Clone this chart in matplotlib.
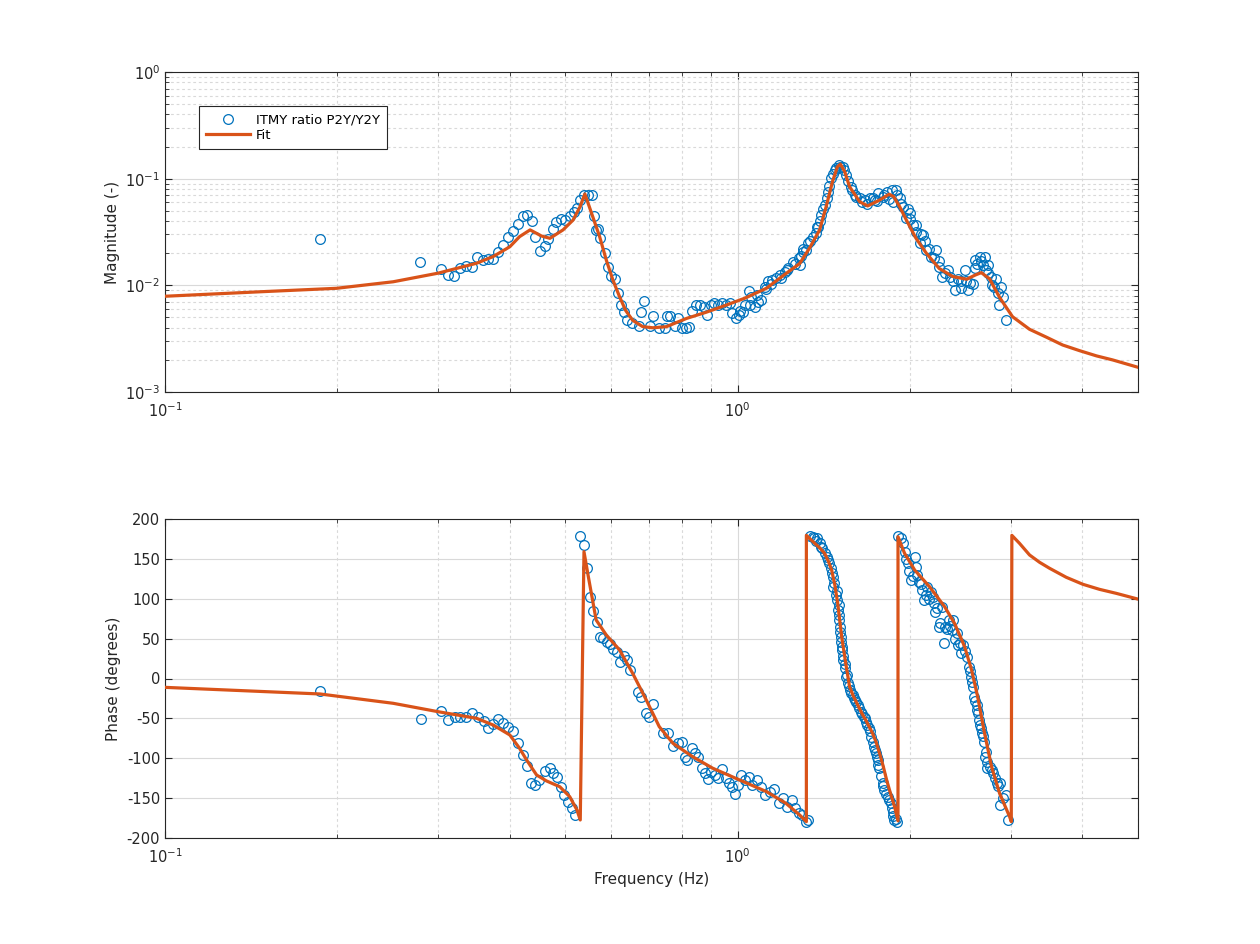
import matplotlib
matplotlib.use("Agg")
import matplotlib.pyplot as plt
import numpy as np
from matplotlib.ticker import LogLocator, MultipleLocator, NullFormatter

plt.rcParams['font.family'] = ['DejaVu Sans']
plt.rcParams['axes.unicode_minus'] = False

# ---------------- data ----------------
mag_f = [0.1865, 0.279, 0.303, 0.312, 0.320, 0.327, 0.336, 0.343, 0.350, 0.359, 0.366, 0.374,
         0.381, 0.389, 0.397, 0.405, 0.414, 0.421, 0.429, 0.4375, 0.443, 0.451, 0.460, 0.467,
         0.476, 0.482, 0.4905, 0.499, 0.5095, 0.5175, 0.524, 0.530, 0.539, 0.548, 0.5575, 0.561,
         0.566, 0.570, 0.5755, 0.586, 0.5925, 0.6005, 0.6105, 0.618, 0.625, 0.633, 0.642, 0.6525,
         0.673, 0.679, 0.6865, 0.702, 0.711, 0.7295, 0.746, 0.7535, 0.762, 0.7775, 0.7875, 0.800,
         0.8135, 0.8225, 0.8335, 0.845, 0.859, 0.872, 0.884, 0.8975, 0.909, 0.9225, 0.9385, 0.953,
         0.969, 0.9785, 0.9915, 1.0035, 1.0195, 1.0305, 1.046, 1.0566, 1.071, 1.085, 1.0995,
         1.1146, 1.1295, 1.1445, 1.168, 1.184, 1.208, 1.225, 1.249, 1.277, 1.300, 1.3265, 1.354,
         1.376, 1.283, 1.318, 1.382, 1.400, 1.418, 1.436, 1.455, 1.4765, 1.501, 1.527, 1.548,
         1.576, 1.600, 1.633, 1.666, 1.700, 1.734, 1.757, 1.793, 1.826, 1.862, 1.890, 1.918,
         1.943, 1.970, 1.996, 2.023, 2.048, 2.078, 2.105, 2.135, 2.176, 2.222, 2.248, 2.276,
         2.328, 2.373, 2.400, 2.457, 2.490, 2.525, 2.580, 2.592, 2.645, 2.698, 2.735, 2.770,
         2.808, 2.846, 2.883, 2.857, 2.940,
         1.01, 1.05, 1.08, 1.12, 1.15, 1.19, 1.22, 1.26, 1.29,
         1.30, 1.34, 1.37, 1.39, 1.41, 1.43, 1.445, 1.465, 1.485, 1.51, 1.535, 1.56, 1.585,
         1.61, 1.65, 1.68, 1.72, 1.75, 1.80, 1.84, 1.87, 1.90, 1.93, 1.98, 2.00, 2.05, 2.09,
         2.12, 2.16, 2.20, 2.25, 2.30, 2.35, 2.42, 2.45, 2.50, 2.54, 2.60, 2.62, 2.66, 2.68,
         2.71, 2.74, 2.78, 2.82, 2.90]
mag_v = [0.0272, 0.01655, 0.0141, 0.0125, 0.0123, 0.0144, 0.0151, 0.0149, 0.0183, 0.0172, 0.0175, 0.0177,
         0.0207, 0.0238, 0.0286, 0.0326, 0.0376, 0.0450, 0.0457, 0.0403, 0.0281, 0.0211, 0.0235, 0.0270,
         0.0335, 0.0395, 0.0418, 0.0410, 0.0445, 0.0490, 0.0528, 0.0631, 0.0703, 0.0703, 0.0703, 0.0445,
         0.0330, 0.0335, 0.0276, 0.0200, 0.0147, 0.0122, 0.0114, 0.0084, 0.0065, 0.0056, 0.0047, 0.0044,
         0.0042, 0.0056, 0.0071, 0.0042, 0.0052, 0.0040, 0.0040, 0.0052, 0.0052, 0.0042, 0.0049, 0.0040,
         0.0040, 0.0041, 0.0058, 0.0065, 0.0065, 0.0063, 0.0053, 0.0065, 0.0068, 0.0065, 0.0068, 0.0065,
         0.0068, 0.0055, 0.0049, 0.0053, 0.0056, 0.0065, 0.0088, 0.0078, 0.0063, 0.0070, 0.0073,
         0.0097, 0.0109, 0.0104, 0.0116, 0.0125, 0.0134, 0.0144, 0.0167, 0.0180, 0.0207, 0.0249, 0.0286,
         0.0355, 0.0156, 0.0215, 0.0355, 0.0457, 0.0568, 0.0756, 0.1009, 0.1205, 0.134, 0.129, 0.108,
         0.084, 0.0703, 0.0655, 0.063, 0.0655, 0.063, 0.0730, 0.068, 0.0756, 0.0785, 0.0785, 0.0655,
         0.0546, 0.0426, 0.0474, 0.0368, 0.0318, 0.0249, 0.0296, 0.0215, 0.0186, 0.0215, 0.0149, 0.0121,
         0.0140, 0.0109, 0.0091, 0.0109, 0.0140, 0.0091, 0.0104, 0.0172, 0.0186, 0.0186, 0.0156, 0.0121,
         0.0097, 0.0084, 0.0097, 0.0065, 0.0047,
         0.0057, 0.0066, 0.0082, 0.0092, 0.0112, 0.0118, 0.0138, 0.0158, 0.0190,
         0.0220, 0.0260, 0.0310, 0.0400, 0.0520, 0.0660, 0.0850, 0.1100, 0.1250, 0.1280, 0.1200, 0.0950, 0.0780,
         0.0680, 0.0600, 0.0580, 0.0660, 0.0620, 0.0700, 0.0650, 0.0600, 0.0700, 0.0580, 0.0520, 0.0420, 0.0370, 0.0300,
         0.0260, 0.0220, 0.0180, 0.0170, 0.0130, 0.0120, 0.0115, 0.0095, 0.0110, 0.0105, 0.0145, 0.0160, 0.0170, 0.0155,
         0.0140, 0.0130, 0.0100, 0.0115, 0.0078]

ph_f = [0.1865, 0.2794, 0.303, 0.312, 0.3205, 0.328, 0.3357, 0.344, 0.352, 0.360, 0.366, 0.374,
        0.381, 0.389, 0.397, 0.405, 0.414, 0.421, 0.428, 0.436, 0.442, 0.449, 0.460, 0.470,
        0.476, 0.484, 0.4915, 0.4975, 0.506, 0.5135, 0.520, 0.530, 0.539, 0.546, 0.553, 0.560,
        0.568, 0.5755, 0.583, 0.591, 0.5995, 0.6053, 0.6145, 0.623, 0.633, 0.642, 0.6475, 0.6695,
        0.679, 0.6925, 0.6995, 0.711, 0.7405, 0.756, 0.771, 0.7875, 0.798, 0.809, 0.8145, 0.831,
        0.842, 0.8535, 0.865, 0.8765, 0.8885, 0.900, 0.912, 0.924, 0.940, 0.954, 0.967, 0.9785,
        0.989, 1.0015, 1.015, 1.031, 1.045, 1.061, 1.082, 1.0995, 1.118, 1.1365, 1.159, 1.1805,
        1.200, 1.2205, 1.2435, 1.2605, 1.278, 1.2965, 1.3185, 1.328,
        1.336, 1.354, 1.378, 1.390, 1.404, 1.418, 1.436, 1.455, 1.468, 1.468, 1.483, 1.493,
        1.499, 1.503, 1.5075, 1.513, 1.519, 1.527, 1.537, 1.546, 1.558, 1.572, 1.587, 1.603,
        1.622, 1.644, 1.662, 1.678, 1.692, 1.710, 1.728, 1.745, 1.756, 1.767, 1.791, 1.804,
        1.828, 1.853, 1.865, 1.878, 1.897, 1.905, 1.930, 1.956, 1.981, 2.0075, 2.042, 2.048,
        2.074, 2.101, 2.115, 2.143, 2.171, 2.199, 2.214, 2.243, 2.272, 2.288, 2.303, 2.340,
        2.364, 2.380, 2.412, 2.428, 2.454, 2.477, 2.510, 2.545, 2.560, 2.577, 2.588, 2.612,
        2.630, 2.648, 2.666, 2.695, 2.7025, 2.720, 2.757, 2.794, 2.831, 2.870, 2.866, 2.940, 2.960,
        1.36, 1.37, 1.40, 1.43, 1.445, 1.46, 1.475, 1.49, 1.50, 1.505, 1.51, 1.516, 1.522,
        1.53, 1.54, 1.55, 1.565, 1.58, 1.595, 1.61, 1.63, 1.65, 1.67, 1.685, 1.70, 1.72,
        1.735, 1.75, 1.76, 1.78, 1.795, 1.815, 1.84, 1.86, 1.87, 1.89,
        1.94, 1.97, 1.99, 2.02, 2.06, 2.09, 2.13, 2.16, 2.19, 2.23, 2.26, 2.32, 2.35, 2.40,
        2.44, 2.49, 2.53, 2.57, 2.60, 2.62, 2.64, 2.66, 2.68, 2.71, 2.73, 2.78, 2.81, 2.85, 2.90]
ph_v = [-15.7, -51.2, -40.4, -52.0, -48.7, -48.7, -48.7, -43.6, -47.9, -52.9, -62.4, -57.0,
        -50.8, -56.2, -60.4, -65.5, -80.5, -95.9, -109.7, -130.6, -133.5, -127.3, -115.6, -112.6,
        -118.9, -123.9, -135.7, -146.1, -154.5, -162.8, -171.2, 178.7, 167.0, 138.2, 101.8, 85.0,
        71.2, 52.4, 50.4, 46.2, 43.3, 36.6, 33.6, 21.1, 28.2, 23.2, 10.7, -16.5,
        -22.8, -43.6, -47.9, -32.0, -68.7, -68.7, -84.6, -80.5, -79.2, -98.0, -102.2, -87.5,
        -93.8, -98.0, -112.6, -118.9, -126.4, -116.9, -121.0, -125.1, -113.9, -125.1, -131.4, -135.7,
        -144.8, -133.5, -121.0, -127.3, -123.1, -133.5, -127.3, -135.7, -146.1, -142.0, -138.9, -155.7,
        -150.2, -161.5, -152.3, -162.8, -169.0, -171.2, -179.5, -178.0,
        179.0, 177.8, 175.8, 169.5, 163.3, 157.0, 148.6, 138.2, 127.7, 115.1, 104.7, 98.4,
        85.9, 73.4, 58.7, 46.2, 35.7, 23.2, 12.8, 2.3, -6.0, -14.4, -20.7, -27.0,
        -33.2, -41.6, -47.9, -54.2, -62.5, -73.0, -85.5, -93.8, -102.2, -112.6, -131.4, -139.8,
        -148.2, -156.5, -167.0, -177.4, -179.5, 179.0, 175.8, 159.0, 144.5, 123.5, 152.7, 140.2,
        121.4, 111.0, 98.4, 115.1, 108.8, 94.3, 83.8, 65.0, 90.0, 44.1, 65.0, 73.4,
        60.8, 73.4, 56.7, 42.0, 31.6, 42.0, 26.5, 9.8, 1.4, -11.1, -23.7, -33.2,
        -43.6, -58.3, -68.7, -79.2, -98.0, -112.6, -110.6, -118.9, -131.4, -131.4, -158.6, -146.1, -177.4,
        176, 172, 165, 152, 145, 132, 120, 110, 92, 80, 65, 52, 40,
        28, 18, 5, -10, -18, -25, -30, -37, -45, -50, -58, -66, -80,
        -90, -98, -108, -122, -135, -145, -152, -162, -172, -176,
        170, 150, 135, 128, 130, 118, 105, 100, 102, 88, 70, 62, 66, 50,
        45, 35, 15, -5, -28, -40, -52, -62, -72, -92, -105, -115, -125, -135, -150]

fit_mag_f = [0.100, 0.1465, 0.1993, 0.2503, 0.2997, 0.3498, 0.374, 0.400, 0.416, 0.434, 0.4543,
             0.470, 0.4955, 0.516, 0.530, 0.541, 0.557, 0.574, 0.5895, 0.6055, 0.622, 0.6375,
             0.6555, 0.6825, 0.711, 0.751, 0.8145, 0.8815, 0.953, 1.0305, 1.123, 1.214, 1.283,
             1.336, 1.390, 1.427, 1.464, 1.493, 1.511, 1.537, 1.568, 1.633, 1.686, 1.769, 1.838,
             1.872, 1.918, 1.970, 2.048, 2.135, 2.248, 2.373, 2.510, 2.600, 2.663, 2.753, 2.866,
             3.019, 3.233, 3.462, 3.692, 3.954, 4.232, 4.513, 4.990]
fit_mag_v = [0.0079, 0.0087, 0.00938, 0.0108, 0.0130, 0.0161, 0.0186, 0.0230, 0.0286, 0.0331, 0.0290,
             0.0276, 0.0331, 0.0410, 0.0540, 0.0718, 0.0457, 0.0286, 0.0173, 0.0112, 0.0078, 0.0058,
             0.0047, 0.0041, 0.0040, 0.0041, 0.0049, 0.0056, 0.0065, 0.0076, 0.0094, 0.0129, 0.0160,
             0.0225, 0.0331, 0.0546, 0.0940, 0.1290, 0.1370, 0.1170, 0.0840, 0.0608, 0.0555, 0.0630, 0.0715,
             0.0680, 0.0546, 0.0410, 0.0276, 0.0200, 0.0144, 0.0121, 0.0114, 0.0125, 0.01315, 0.0115, 0.0077,
             0.00508, 0.00387, 0.00326, 0.00276, 0.00244, 0.00218, 0.00200, 0.00171]

fit_ph_f = [0.100, 0.1865, 0.2503, 0.2997, 0.350, 0.374, 0.400, 0.416, 0.428, 0.4455, 0.4637,
            0.489, 0.509, 0.524, 0.531, 0.539, 0.5485, 0.566, 0.5895, 0.622, 0.6555, 0.6925,
            0.7295, 0.771, 0.834, 0.905, 1.008, 1.123, 1.214, 1.283, 1.318,
            1.318, 1.363, 1.390, 1.418, 1.440, 1.459, 1.478, 1.495, 1.507, 1.519, 1.532, 1.544,
            1.568, 1.594, 1.620, 1.646, 1.673, 1.720, 1.745, 1.769, 1.795, 1.820, 1.850, 1.879,
            1.905, 1.905, 1.956, 2.037, 2.163, 2.298, 2.391, 2.490, 2.561, 2.624, 2.698, 2.775,
            2.866, 2.984, 3.004, 3.011, 3.105, 3.233, 3.366, 3.504, 3.747, 4.007, 4.283, 4.580, 4.990]
fit_ph_v = [-11.1, -19.4, -31.1, -41.6, -49.9, -58.3, -70.8, -87.5, -102.2, -121.0, -128.5,
            -135.7, -148.2, -164.9, -177.4, 159.0, 127.8, 73.4, 54.6, 35.7, 6.5, -27.0,
            -60.4, -81.3, -98.0, -112.6, -127.3, -141.9, -156.5, -171.2, -179.5,
            179.5, 169.5, 164.0, 157.0, 147.0, 136.0, 117.0, 94.3, 73.0, 52.4, 35.0, 19.0,
            -10.3, -23.0, -33.2, -43.0, -52.0, -68.7, -80.0, -93.8, -110.0, -127.3, -145.0, -160.7,
            -178.5, 177.8, 157.0, 136.0, 115.0, 90.0, 69.2, 40.0, 10.7, -22.8, -68.7, -110.6,
            -144.0, -173.3, -179.5, 179.5, 169.5, 154.9, 145.7, 138.2, 126.9, 118.1, 111.8, 106.8, 99.7]

legend_labels = ["ITMY ratio P2Y/Y2Y", "Fit"]

# ---------------- styling ----------------
BLUE = '#0072BD'
ORANGE = '#D95319'
AXC = '#262626'

fig = plt.figure(figsize=(12.6, 9.44), dpi=100)
ax1 = fig.add_axes([165/1260, 1-392/944, 973/1260, 320/944])
ax2 = fig.add_axes([165/1260, 1-838/944, 973/1260, 319/944])

def style(ax):
    for s in ax.spines.values():
        s.set_color(AXC)
        s.set_linewidth(0.8)
    ax.tick_params(which='both', direction='in', top=True, right=True,
                   colors=AXC, labelsize=10.5)
    ax.tick_params(which='major', length=5)
    ax.tick_params(which='minor', length=3)
    ax.tick_params(axis='x', which='both', pad=7)
    ax.set_axisbelow(True)

# top: magnitude
ax1.plot(mag_f, mag_v, 'o', mfc='none', mec=BLUE, ms=7, mew=0.9,
         label=legend_labels[0], zorder=3)
ax1.plot(fit_mag_f, fit_mag_v, '-', color=ORANGE, lw=2.3, label=legend_labels[1], zorder=4)
ax1.set_xscale('log')
ax1.set_yscale('log')
ax1.set_xlim(0.1, 5)
ax1.set_ylim(1e-3, 1)
ax1.xaxis.set_major_locator(LogLocator(base=10, numticks=10))
ax1.xaxis.set_minor_locator(LogLocator(base=10, subs=np.arange(2, 10), numticks=20))
ax1.xaxis.set_minor_formatter(NullFormatter())
ax1.yaxis.set_minor_locator(LogLocator(base=10, subs=np.arange(2, 10), numticks=20))
ax1.yaxis.set_minor_formatter(NullFormatter())
ax1.grid(which='major', color='#d9d9d9', lw=0.8, ls='-')
ax1.grid(which='minor', color='#d9d9d9', lw=0.8, ls=(0, (2.5, 2.5)))
ax1.set_ylabel('Magnitude (-)', fontsize=11, color=AXC)
style(ax1)
leg = ax1.legend(loc='upper left', bbox_to_anchor=(0.035, 0.894), fontsize=9.5,
                 frameon=True, fancybox=False, edgecolor=AXC, framealpha=1,
                 handlelength=3.3, borderpad=0.55, labelspacing=0.2, handletextpad=0.45,
                 borderaxespad=0.0)
leg.get_frame().set_linewidth(0.8)

# bottom: phase
ax2.plot(ph_f, ph_v, 'o', mfc='none', mec=BLUE, ms=7, mew=0.9, zorder=3)
ax2.plot(fit_ph_f, fit_ph_v, '-', color=ORANGE, lw=2.3, zorder=4)
ax2.set_xscale('log')
ax2.set_xlim(0.1, 5)
ax2.set_ylim(-200, 200)
ax2.yaxis.set_major_locator(MultipleLocator(50))
ax2.xaxis.set_major_locator(LogLocator(base=10, numticks=10))
ax2.xaxis.set_minor_locator(LogLocator(base=10, subs=np.arange(2, 10), numticks=20))
ax2.xaxis.set_minor_formatter(NullFormatter())
ax2.grid(which='major', color='#d9d9d9', lw=0.8, ls='-')
ax2.grid(which='minor', axis='x', color='#d9d9d9', lw=0.8, ls=(0, (2.5, 2.5)))
ax2.set_ylabel('Phase (degrees)', fontsize=11, color=AXC)
ax2.set_xlabel('Frequency (Hz)', fontsize=11, color=AXC)
style(ax2)

fig.savefig('out.png', dpi=100, facecolor='white')
